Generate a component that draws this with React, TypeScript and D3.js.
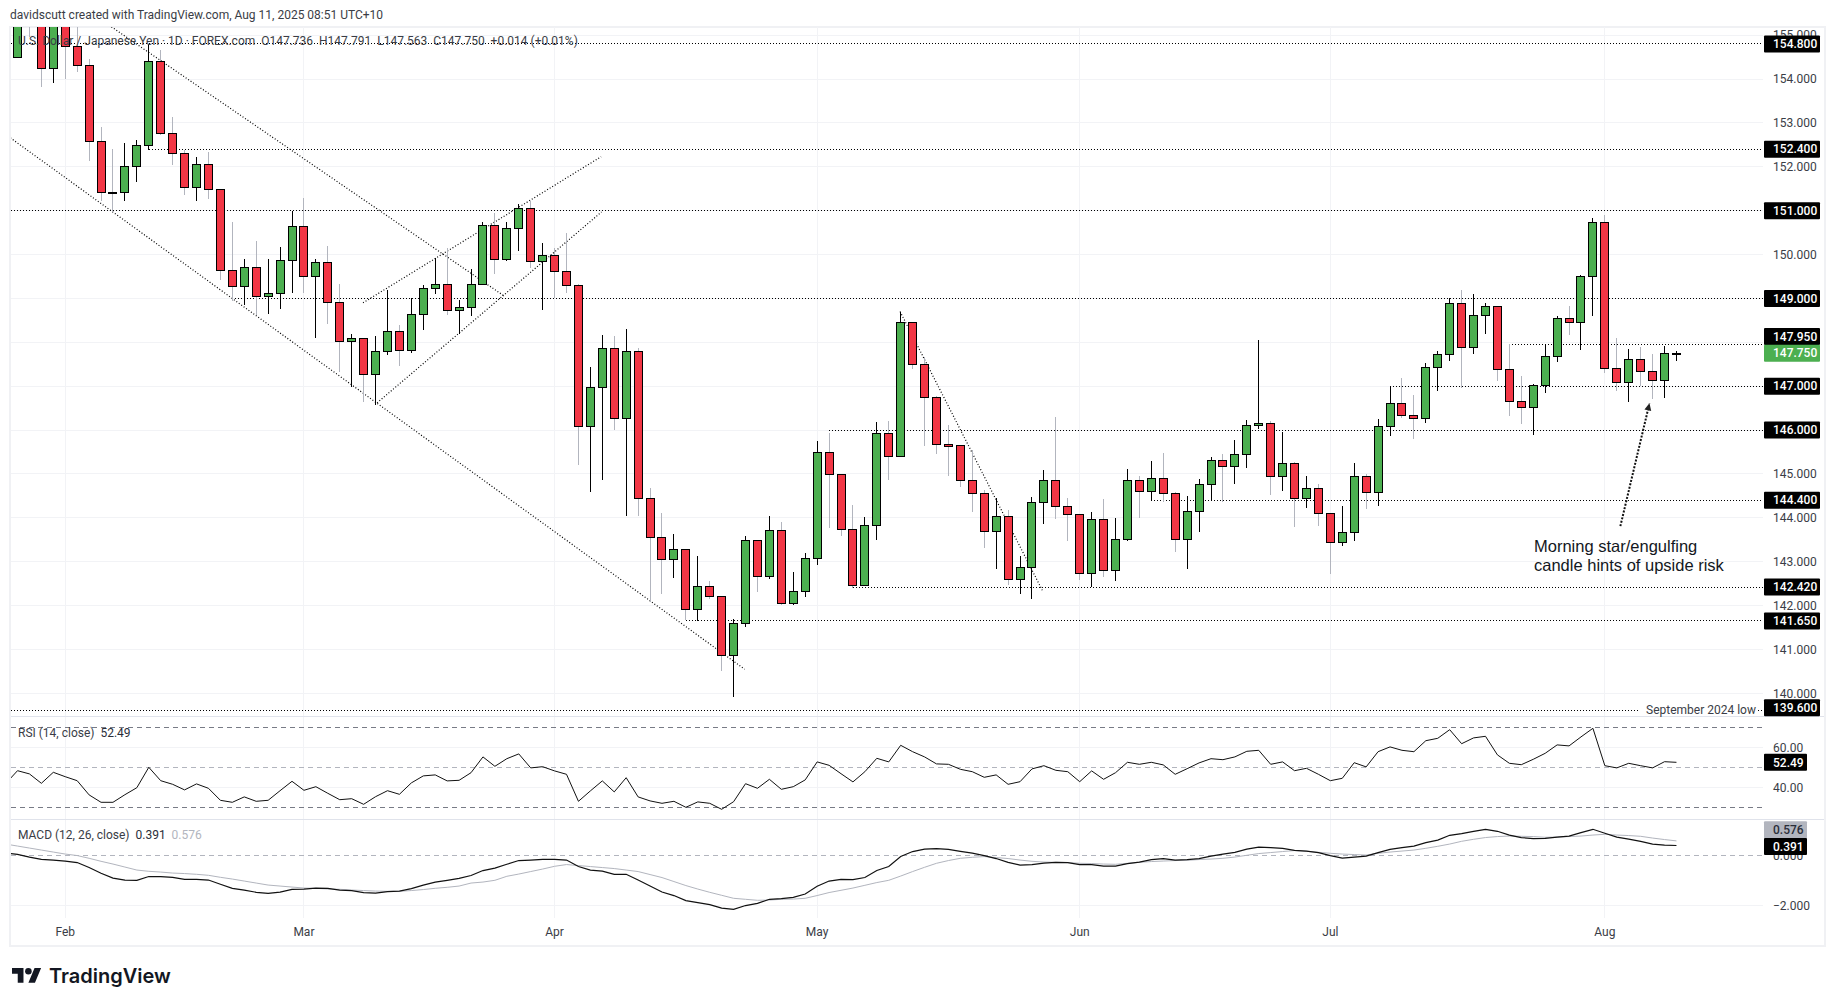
import React from "react";
import * as d3 from "d3";

const opens = [
154.49,156.3,155.5,154.25,155.8,154.75,154.32,152.57,151.42,151.41,
152.0,152.48,154.41,152.77,152.3,151.52,152.05,151.48,149.64,149.27,
149.7,149.05,149.12,149.86,150.64,149.5,149.82,148.91,148.02,148.09,
147.27,147.8,148.25,147.82,148.63,149.22,149.31,148.72,148.8,149.32,
150.66,149.89,150.59,151.05,149.84,149.98,149.61,149.3,146.07,146.98,
147.86,146.27,147.8,144.45,143.55,143.05,143.27,141.91,142.43,142.2,
140.86,141.59,143.48,142.66,143.7,142.05,142.32,143.07,145.48,144.98,
143.73,142.45,143.82,145.93,145.39,148.45,147.5,146.75,145.68,145.64,
144.86,144.55,143.68,144.02,142.59,142.86,144.34,144.84,144.25,144.07,
142.73,143.95,142.8,143.5,144.86,144.59,144.89,144.55,143.5,144.14,
144.75,145.3,145.16,145.45,146.11,146.16,144.95,145.23,144.43,144.66,
144.09,143.43,143.66,144.93,144.57,146.07,146.61,146.34,146.27,147.43,
147.73,148.89,147.89,148.61,148.82,147.39,146.64,146.52,147.02,147.68,
148.55,148.45,149.5,150.73,147.41,147.09,147.61,147.34,147.14,147.736];
const closes = [
155.9,155.5,154.25,155.8,154.75,154.32,152.57,151.41,151.41,152.0,
152.48,154.41,152.77,152.3,151.52,152.05,151.48,149.64,149.27,149.7,
149.05,149.12,149.86,150.64,149.5,149.82,148.91,148.02,148.09,147.27,
147.8,148.25,147.82,148.63,149.22,149.31,148.72,148.8,149.32,150.66,
149.89,150.59,151.05,149.84,149.98,149.61,149.3,146.07,146.98,147.86,
146.27,147.8,144.45,143.55,143.05,143.27,141.91,142.43,142.2,140.86,
141.59,143.48,142.66,143.7,142.05,142.32,143.07,145.48,144.98,143.73,
142.45,143.82,145.93,145.39,148.45,147.5,146.75,145.68,145.63,144.86,
144.55,143.68,144.02,142.59,142.86,144.34,144.84,144.25,144.07,142.73,
143.95,142.8,143.5,144.86,144.59,144.89,144.55,143.5,144.14,144.75,
145.3,145.16,145.45,146.11,146.16,144.95,145.23,144.43,144.66,144.09,
143.43,143.66,144.93,144.57,146.07,146.61,146.34,146.27,147.43,147.73,
148.89,147.89,148.61,148.82,147.39,146.64,146.52,147.02,147.68,148.55,
148.45,149.5,150.73,147.41,147.09,147.61,147.34,147.14,147.736,147.75];
const highs = [
156.4,156.5,155.9,156.2,156,155.3,154.45,152.9,152.41,152.55,
152.61,154.8,154.66,153.14,152.39,152.23,152.33,151.48,150.74,149.89,
150.3,149.89,150.17,150.99,151.3,149.89,150.19,149.34,148.2,148.09,
148.14,149.2,148.39,149.02,149.3,149.93,150.16,148.96,149.66,150.75,
150.95,150.75,151.16,151.23,150.27,150.14,150.5,149.33,147.43,148.16,
148.14,148.3,147.86,144.67,144.1,143.62,143.3,143.12,142.55,142.2,
141.7,143.59,143.48,144.05,143.91,142.77,143.2,145.75,145.93,145.0,
144.3,144.02,146.18,146.21,148.7,148.45,147.67,146.78,146.11,145.64,
145.55,144.64,144.45,144.17,143.12,144.48,145.1,146.3,144.45,144.07,
144.14,144.42,144.0,145.12,144.96,145.3,145.48,144.59,144.5,144.89,
145.39,145.45,145.78,146.23,148.05,146.21,145.96,145.27,144.96,144.78,
144.09,144.28,145.26,145.0,146.26,147.01,147.19,146.8,147.52,147.8,
149.02,149.19,149.09,148.89,148.82,147.95,147.23,147.05,147.95,148.59,
148.82,149.54,150.84,150.91,148.1,147.84,147.89,147.73,147.91,147.791];
const lows = [
154.49,154.95,153.81,153.92,154.0,154.17,152.13,151.23,150.97,151.22,
151.65,152.39,152.73,152.03,151.35,151.23,151.26,149.42,148.95,148.84,
148.62,148.65,148.77,149.13,149.13,148.1,148.42,147.33,146.97,146.65,
146.56,147.7,147.45,147.76,148.28,149.1,148.62,148.2,148.6,149.32,
149.56,149.86,150.08,149.7,148.73,149.0,149.13,145.21,144.58,144.86,
145.99,144.04,144.04,142.08,142.27,142.63,141.67,141.65,142.14,140.51,
139.92,141.52,142.31,142.61,142.02,142.02,142.2,142.92,143.77,143.58,
142.4,142.45,143.49,144.86,145.39,147.4,145.63,145.45,144.95,144.7,
144.13,143.31,142.83,142.46,142.26,142.14,143.87,143.98,143.46,142.58,
142.43,142.64,142.55,143.46,144.0,144.41,144.35,143.21,142.83,143.67,
144.41,144.35,144.76,145.14,146.03,144.53,144.62,143.78,144.22,143.81,
142.71,143.36,143.47,144.21,144.27,145.86,146.27,145.79,146.15,146.88,
147.58,146.95,147.74,148.2,147.11,146.33,146.13,145.88,146.84,147.54,
148.17,147.83,148.61,147.31,146.9,146.65,147.0,146.71,146.73,147.563];

// oscillator series start one bar before the first candle
const rsi = [41.8,
48.3,46.7,42,47.5,45.3,43.3,36.2,32.5,32.5,36.3,
39.8,50,43.3,41.5,38.7,41.7,39.5,33.5,32.5,35.2,
33,33.5,38.3,43,38.5,40.3,37,33.8,34.3,31.5,
35.3,38.3,36.5,42.2,45.7,46.2,43.2,43.5,47.3,55.2,
50.5,54.3,56.7,49.7,50.3,48.2,46.5,33,38.2,43.2,
37.7,44.8,35.2,33.2,32,33,30,32.7,32,29,
32.8,41.8,39.5,44,39,40.3,43.7,52.7,51,46.8,
42.7,47.8,54.5,52.7,61,57.8,55.2,51.7,51.5,49,
47.8,45,46.2,41.5,42.8,49.2,50.8,48.5,47.8,42.8,
48.2,44,47.3,52.5,51.5,52.5,51.2,46.5,49.3,52.2,
54.3,53.8,55.2,58,58.5,51.5,52.7,48.3,49.5,46.5,
43.3,44.5,52.3,50.2,57.8,60.2,58.5,57.8,63.3,64.5,
68.8,61.8,64.7,65.5,56.2,52,51.3,54,57,61.2,
60.7,65.2,69.5,50.8,49.7,52,50.8,49.7,52.8,52.49];
const macd = [0.09,
0.04,-0.07,-0.16,-0.19,-0.23,-0.29,-0.49,-0.72,-0.91,-0.99,
-1.0,-0.85,-0.85,-0.88,-0.96,-0.96,-0.99,-1.16,-1.32,-1.39,
-1.48,-1.52,-1.47,-1.36,-1.35,-1.31,-1.32,-1.39,-1.41,-1.49,
-1.51,-1.45,-1.43,-1.33,-1.19,-1.07,-1.0,-0.92,-0.81,-0.61,
-0.51,-0.36,-0.21,-0.19,-0.16,-0.16,-0.19,-0.45,-0.59,-0.63,
-0.76,-0.76,-0.99,-1.23,-1.47,-1.61,-1.81,-1.89,-1.97,-2.11,
-2.16,-2.01,-1.92,-1.76,-1.73,-1.68,-1.55,-1.24,-1.03,-0.96,
-0.97,-0.89,-0.61,-0.45,-0.05,0.15,0.25,0.27,0.24,0.16,
0.09,-0.01,-0.13,-0.28,-0.39,-0.37,-0.31,-0.28,-0.29,-0.37,
-0.37,-0.43,-0.43,-0.33,-0.27,-0.17,-0.13,-0.19,-0.17,-0.13,
-0.03,0.05,0.12,0.25,0.33,0.31,0.28,0.2,0.17,0.11,
-0.01,-0.11,-0.07,-0.03,0.11,0.24,0.31,0.37,0.51,0.61,
0.8,0.87,0.96,1.04,0.96,0.81,0.71,0.67,0.68,0.73,
0.77,0.91,1.04,0.88,0.73,0.65,0.56,0.45,0.41,0.391];
const signal = [0.45,
0.37,0.29,0.21,0.13,0.05,-0.01,-0.12,-0.24,-0.35,-0.47,
-0.59,-0.64,-0.67,-0.71,-0.73,-0.76,-0.8,-0.88,-0.95,-1.03,
-1.11,-1.19,-1.23,-1.27,-1.31,-1.32,-1.35,-1.36,-1.39,-1.41,
-1.43,-1.44,-1.44,-1.41,-1.37,-1.32,-1.28,-1.23,-1.11,-1.07,
-1.0,-0.84,-0.75,-0.65,-0.55,-0.44,-0.37,-0.41,-0.45,-0.49,
-0.53,-0.59,-0.65,-0.77,-0.89,-1.05,-1.21,-1.35,-1.48,-1.6,
-1.72,-1.76,-1.8,-1.79,-1.76,-1.75,-1.72,-1.61,-1.49,-1.4,
-1.31,-1.2,-1.09,-1.0,-0.83,-0.65,-0.48,-0.32,-0.21,-0.12,
-0.08,-0.05,-0.09,-0.13,-0.19,-0.24,-0.27,-0.28,-0.29,-0.32,
-0.33,-0.35,-0.36,-0.32,-0.28,-0.25,-0.23,-0.21,-0.2,-0.17,
-0.15,-0.12,-0.07,0,0.07,0.11,0.15,0.19,0.16,0.12,
0.08,0.05,0.03,0.01,0.08,0.13,0.17,0.21,0.28,0.36,
0.45,0.56,0.64,0.71,0.75,0.77,0.76,0.75,0.72,0.73,
0.75,0.77,0.81,0.84,0.81,0.79,0.76,0.69,0.63,0.576];

const priceTicks = [155,154,153,152,151,150,149,148,147,146,145,144,143,142,141,140];
// tick labels that sit fully behind a level label
const coveredTicks = [151,149,148,147,146];
const rsiTicks = [60,40];
const rsiBands = [70,50,30];
const macdTicks = [0,-2];
const monthLabels = ["Feb","Mar","Apr","May","Jun","Jul","Aug"];
const monthBars = [4,24,45,67,89,110,133];

// level price, bar where the dotted line starts, shift of its axis label
const levelPrices = [154.8,152.4,151,149,147.95,147,146,144.4,142.42,141.65,139.6];
const levelStarts = [-1,11,-1,18,125,115,68,95,70,56,-1];
const levelLabelShift = [0,0,0,0,-8,0,0,0,0,0,-3];

// bar, price, bar, price
const trendLines = [
  [-0.6,152.66,60.92,140.55],
  [7.87,155.19,40.75,149.06],
  [28.95,148.9,48.9,152.23],
  [30.13,146.62,48.93,150.97],
  [73.95,148.7,85.86,142.35],
];
const arrowLine = [134.3,143.81,136.74,146.61];

const W = 1835, H = 1006;
const L = 11, R = 1763;
const PT = 27, PB = 716, MB = 918;

const x = d3.scaleLinear().domain([0,139]).range([17.5,17.5+139*11.935]);
const y = d3.scaleLinear().domain([148,140]).range([342.3,693.3]);
const yR = d3.scaleLinear().domain([50,40]).range([767.3,787.3]);
const yM = d3.scaleLinear().domain([0,-2]).range([855.3,905.3]);
const px = (i:number)=>Math.round(x(i)-0.5)+0.5;
const py = (v:number,s:(n:number)=>number)=>Math.round(s(v)-0.5)+0.5;

const UP="#4caf50", DOWN="#f23645", GRID="#f2f3f6", FRAME="#f0f1f4", SEP="#e0e3eb", TXT="#3a3d46", WICK="#b2b5be";
const FONT="Roboto, sans-serif";

const oscLine=(s:(n:number)=>number)=>d3.line<number>().x((_,k)=>x(k-1)).y(v=>s(v));

function Label({y:yy,text,bg,fg,right=1820,w=56}:{y:number;text:string;bg:string;fg:string;right?:number;w?:number}){
  return <g>
    <rect x={right-w} y={yy-8.5} width={w} height={17} rx={1} fill={bg}/>
    <text x={1773} y={yy+4.2} fontFamily={FONT} fontSize={12} fontWeight={500} fill={fg}>{text}</text>
  </g>;
}

export default function App(){
  const ax=x(arrowLine[0]),ay=y(arrowLine[1]),bx=x(arrowLine[2]),by=y(arrowLine[3]);
  const ang=Math.atan2(by-ay,bx-ax);
  const head=[[bx,by],[bx-8*Math.cos(ang-0.45),by-8*Math.sin(ang-0.45)],[bx-8*Math.cos(ang+0.45),by-8*Math.sin(ang+0.45)]];
  const lowY=py(levelPrices[levelPrices.length-1],y);
  return (
  <svg width={W} height={H} viewBox={`0 0 ${W} ${H}`} style={{position:"absolute",left:0,top:0,display:"block",background:"#fff"}}>
    <defs>
      <clipPath id="price"><rect x={L} y={PT} width={R-L} height={PB-PT}/></clipPath>
      <clipPath id="osc"><rect x={L} y={PB} width={R-L} height={MB-PB}/></clipPath>
    </defs>
    <text x={10} y={19} fontFamily={FONT} fontSize={12} fill={TXT}>davidscutt created with TradingView.com, Aug 11, 2025 08:51 UTC+10</text>

    {/* frame */}
    <rect x={10} y={27} width={1815} height={919} fill="none" stroke={FRAME} strokeWidth={2}/>

    {/* grid */}
    <g shapeRendering="crispEdges" stroke={GRID}>
      {priceTicks.map(t=><line key={t} x1={L} x2={R} y1={py(t,y)} y2={py(t,y)}/>)}
      {rsiTicks.map(t=><line key={t} x1={L} x2={R} y1={py(t,yR)} y2={py(t,yR)}/>)}
      {macdTicks.filter(t=>t!==0).map(t=><line key={t} x1={L} x2={R} y1={py(t,yM)} y2={py(t,yM)}/>)}
      {monthBars.map(b=><line key={b} x1={px(b)} x2={px(b)} y1={PT} y2={MB}/>)}
    </g>
    <g shapeRendering="crispEdges" stroke={SEP}>
      <line x1={L} x2={1824} y1={716.5} y2={716.5}/>
      <line x1={L} x2={1824} y1={819.5} y2={819.5}/>
    </g>

    {/* levels */}
    <g clipPath="url(#price)">
      {levelPrices.map((p,k)=>{
        const x1=levelStarts[k]<0?L:x(levelStarts[k]);
        const last=k===levelPrices.length-1;
        return <line key={p} x1={x1} x2={last?1638:R} y1={py(p,y)} y2={py(p,y)} stroke="#000" strokeDasharray="1 2" shapeRendering="crispEdges"/>;
      })}
      <line x1={1758} x2={R} y1={lowY} y2={lowY} stroke="#000" strokeDasharray="1 2" shapeRendering="crispEdges"/>
      {trendLines.map((t,k)=><line key={k} x1={x(t[0])} y1={y(t[1])} x2={x(t[2])} y2={y(t[3])} stroke="#000" strokeWidth={1.2} strokeDasharray="1 2"/>)}
    </g>

    {/* candles */}
    <g clipPath="url(#price)" shapeRendering="crispEdges">
      {opens.map((o,i)=>{
        const c=closes[i], up=c>=o;
        const top=py(Math.max(o,c),y), bot=py(Math.min(o,c),y);
        return <g key={i}>
          <line x1={px(i)} x2={px(i)} y1={y(highs[i])} y2={y(lows[i])} stroke={up?"#000":WICK}/>
          <rect x={px(i)-4} y={top} width={8} height={Math.max(bot-top,0.5)} fill={up?UP:DOWN} stroke="#000"/>
        </g>;
      })}
    </g>

    {/* legend over candles */}
    <text x={18} y={45} fontFamily={FONT} fontSize={12} fill={TXT} xmlSpace="preserve">U.S. Dollar / Japanese Yen · 1D · FOREX.com  O147.736  H147.791  L147.563  C147.750  +0.014 (+0.01%)</text>

    {/* arrow */}
    <line x1={ax} y1={ay} x2={bx} y2={by} stroke="#111" strokeWidth={2} strokeDasharray="2 1.5"/>
    <path d={`M${head.map(p=>p.join(",")).join("L")}Z`} fill="#222"/>
    <text fontFamily="'Liberation Sans', Arial, sans-serif" fontSize={16.5} fill="#131722">
      <tspan x={1534} y={551.5}>Morning star/engulfing</tspan>
      <tspan x={1534} y={570.5}>candle hints of upside risk</tspan>
    </text>

    {/* RSI */}
    <g clipPath="url(#osc)">
      {rsiBands.map(b=><line key={b} x1={L} x2={R} y1={py(b,yR)} y2={py(b,yR)} stroke={b===50?"#b2b5be":"#787b86"} strokeDasharray="5 4" shapeRendering="crispEdges"/>)}
      <path d={oscLine(yR)(rsi)!} fill="none" stroke="#111" strokeWidth={1}/>
      <line x1={L} x2={R} y1={py(0,yM)} y2={py(0,yM)} stroke="#b2b5be" strokeDasharray="5 4" shapeRendering="crispEdges"/>
      <path d={oscLine(yM)(signal)!} fill="none" stroke="#b2b5be" strokeWidth={1}/>
      <path d={oscLine(yM)(macd)!} fill="none" stroke="#111" strokeWidth={1.2}/>
    </g>
    <text x={18} y={737} fontFamily={FONT} fontSize={12} fill={TXT} xmlSpace="preserve">RSI (14, close)  <tspan fill="#2a2e39">52.49</tspan></text>
    <text x={18} y={839} fontFamily={FONT} fontSize={12} fill={TXT} xmlSpace="preserve">MACD (12, 26, close)  <tspan fill="#2a2e39">0.391</tspan>  <tspan fill={WICK}>0.576</tspan></text>

    {/* axes */}
    <g fontFamily={FONT} fontSize={12} fill={TXT}>
      {priceTicks.filter(t=>!coveredTicks.includes(t)).map(t=><text key={t} x={1773} y={y(t)+4.2}>{d3.format(".3f")(t)}</text>)}
      {rsiTicks.map(t=><text key={t} x={1773} y={yR(t)+4.2}>{d3.format(".2f")(t)}</text>)}
      {macdTicks.map(t=><text key={t} x={1773} y={yM(t)+4.2}>{d3.format(".3f")(t).replace("-","\u2212")}</text>)}
      {monthLabels.map((m,k)=><text key={m} x={x(monthBars[k])} y={936} textAnchor="middle">{m}</text>)}
    </g>

    {/* axis labels */}
    {levelPrices.map((p,k)=><Label key={p} y={y(p)+levelLabelShift[k]} text={d3.format(".3f")(p)} bg="#000" fg="#fff"/>)}
    <Label y={y(closes[139])} text={d3.format(".3f")(closes[139])} bg={UP} fg="#fff"/>
    <text x={1646} y={714} fontFamily={FONT} fontSize={12} fill={TXT}>September 2024 low</text>
    <Label y={yR(rsi[rsi.length-1])} text={d3.format(".2f")(rsi[rsi.length-1])} bg="#000" fg="#fff" right={1807} w={43}/>
    <Label y={829.7} text={d3.format(".3f")(signal[signal.length-1])} bg="#b2b5be" fg="#2a2e39" right={1807} w={43}/>
    <Label y={846.5} text={d3.format(".3f")(macd[macd.length-1])} bg="#000" fg="#fff" right={1807} w={43}/>

    {/* logo */}
    <g transform="translate(12,968) scale(0.82)" fill="#131722">
      <path d="M14 18H7V7H0V0h14v18zM28 18h-8L27.5 0h8L28 18z"/>
      <circle cx={20} cy={4} r={4}/>
    </g>
    <text x={49} y={983} fontFamily="Inter, Roboto, sans-serif" fontSize={20} fontWeight={600} fill="#131722">TradingView</text>
  </svg>);
}
